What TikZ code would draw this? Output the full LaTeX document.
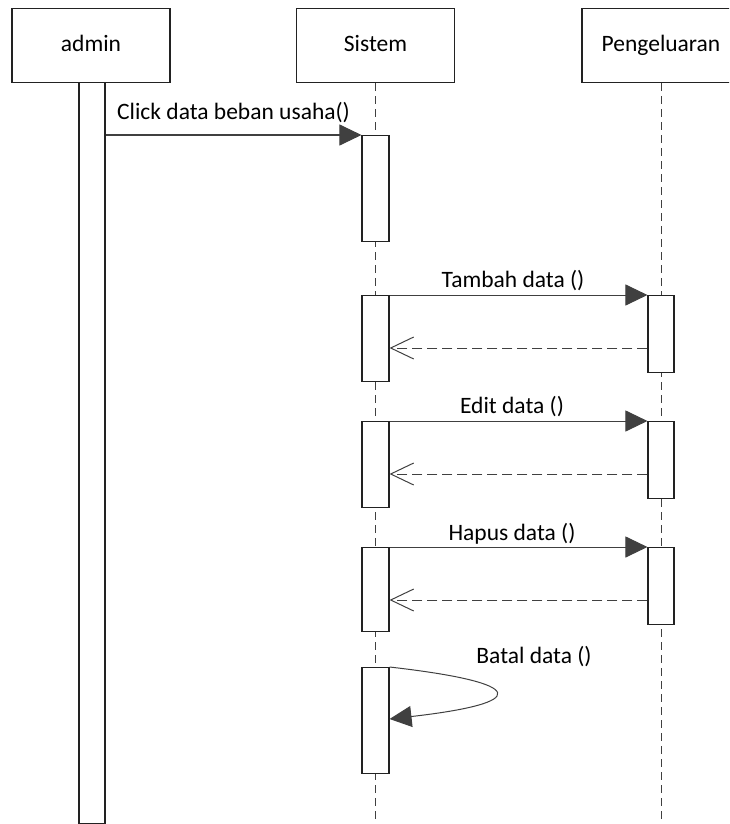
\documentclass[tikz,border=0pt]{standalone}
\usepackage{fontspec}
\setmainfont{Carlito}
\usetikzlibrary{arrows.meta}
\definecolor{ink}{HTML}{222222}
\definecolor{wire}{HTML}{404040}
\begin{document}
\begin{tikzpicture}[x=1pt,y=-1pt,
  every node/.style={font=\fontsize{23.5}{28}\selectfont, text=black},
  head/.style={draw=ink, line width=1.1pt, fill=white, minimum width=158pt, minimum height=74pt, inner sep=0pt, anchor=north},
  act/.style={draw=ink, line width=1.1pt, fill=white, inner sep=0pt, anchor=north},
  life/.style={draw=wire, line width=1pt, dash pattern=on 8pt off 5pt},
  msg/.style={draw=wire, line width=1pt, -{Triangle[length=22pt,width=21pt]}, wire},
  ret/.style={draw=wire, line width=1pt, dash pattern=on 10pt off 5pt, -{Straight Barb[length=23pt,width=22pt,line width=1pt]}},
  lbl/.style={anchor=base, inner sep=0pt}]
\useasboundingbox (0,0) rectangle (729,824);
\clip (0,0) rectangle (729,824);

% lifeline heads
\node[head] (admin)  at (91,8)  {};
\node[head] (sistem) at (375.5,8) {};
\node[head] (peng)   at (661,8) {};
\node[lbl] at (91,52)    {admin};
\node[lbl] at (375.5,52) {Sistem};
\node[lbl] at (661,52)   {Pengeluaran};

% dashed lifelines
\coordinate (sEnd) at (375.5,826);
\coordinate (pEnd) at (661,826);
\draw[life] (sistem.south) -- (sEnd);
\draw[life] (peng.south) -- (pEnd);

% activation bars
\node[act, minimum width=26pt, minimum height=740.5pt] (a1) at (92,82) {};
\node[act, minimum width=27pt, minimum height=106pt] (s1) at (375.5,135) {};
\node[act, minimum width=27pt, minimum height=86pt]  (s2) at (375.5,295) {};
\node[act, minimum width=26pt, minimum height=77pt]  (p2) at (661,295) {};
\node[act, minimum width=27pt, minimum height=86pt]  (s3) at (375.5,421) {};
\node[act, minimum width=26pt, minimum height=77pt]  (p3) at (661,421) {};
\node[act, minimum width=27pt, minimum height=84pt]  (s4) at (375.5,547) {};
\node[act, minimum width=26pt, minimum height=77pt]  (p4) at (661,547) {};
\node[act, minimum width=27pt, minimum height=106pt] (s5) at (375.5,667) {};

% messages
\coordinate (m1) at (a1.east |- s1.north);
\draw[msg] (m1) -- (s1.north west);
\node[anchor=base west, inner sep=0pt] at (117,120) {Click data beban usaha()};

\draw[msg] (s2.north east) -- (p2.north west);
\node[lbl] at (513,287) {Tambah data ()};
\draw[ret] (p2.west |- 0,348) -- (s2.east |- 0,348);

\draw[msg] (s3.north east) -- (p3.north west);
\node[lbl] at (512,413) {Edit data ()};
\draw[ret] (p3.west |- 0,474) -- (s3.east |- 0,474);

\draw[msg] (s4.north east) -- (p4.north west);
\node[lbl] at (512,540) {Hapus data ()};
\draw[ret] (p4.west |- 0,600) -- (s4.east |- 0,600);

% self call
\coordinate (selfEnd) at (s5.east |- 0,719);
\draw[msg] (s5.north east) .. controls (530,683) and (530,703) .. (selfEnd);
\node[lbl] at (534,663) {Batal data ()};
\end{tikzpicture}
\end{document}
